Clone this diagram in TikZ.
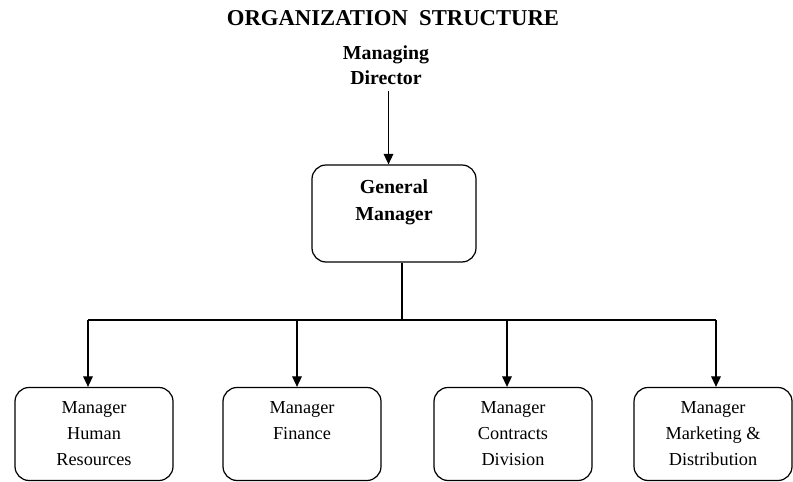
\documentclass[tikz,border=0pt]{standalone}
\usepackage{fontspec}
\setmainfont{Liberation Serif}
\usetikzlibrary{positioning,arrows.meta}

\tikzset{
	headbox/.style={draw, rounded corners=8pt, align=center, minimum width=3.28cm, minimum height=1.94cm, font=\bfseries\fontsize{11.3}{15.4}\selectfont},
	unitbox/.style={draw, rounded corners=8pt, align=center, minimum width=3.16cm, minimum height=1.86cm, font=\fontsize{10.4}{14.8}\selectfont},
}

\begin{document}
\begin{tikzpicture}[line width=0.7pt, >={Triangle[length=6pt,width=5.5pt]}]
	\useasboundingbox (0,0) rectangle (15.86,9.62);
	\node (title) at (7.86,9.26) {\bfseries\fontsize{12.9}{15}\selectfont ORGANIZATION\ \ STRUCTURE};
	\node [align=center, font=\bfseries\fontsize{11.3}{14.2}\selectfont] (md) at (7.72,8.31) {Managing\\Director};
	\node [headbox] (gm) at (7.88,5.35) {General\\Manager\\~};
	% departments
	\node [unitbox] (hr) at (1.88,0.94) {Manager\\Human\\Resources};
	\node [unitbox] (fin) at (6.04,0.94) {Manager\\Finance\\~};
	\node [unitbox] (con) at (10.26,0.94) {Manager\\Contracts\\Division};
	\node [unitbox] (mkt) at (14.26,0.94) {Manager\\Marketing \&\\Distribution};
	% bus line
	\coordinate (bus) at (8.04,3.22);
	\coordinate (b1) at (1.76,3.22);
	\coordinate (b2) at (5.94,3.22);
	\coordinate (b3) at (10.14,3.22);
	\coordinate (b4) at (14.32,3.22);
	\coordinate (mdfoot) at ([xshift=0.05cm]md.south);
	\draw [->] (mdfoot) -- (mdfoot |- gm.north);
	\draw (bus |- gm.south) -- (bus);
	\draw (b1) -- (b4);
	\draw [->] (b1) -- (b1 |- hr.north);
	\draw [->] (b2) -- (b2 |- fin.north);
	\draw [->] (b3) -- (b3 |- con.north);
	\draw [->] (b4) -- (b4 |- mkt.north);
\end{tikzpicture}
\end{document}
